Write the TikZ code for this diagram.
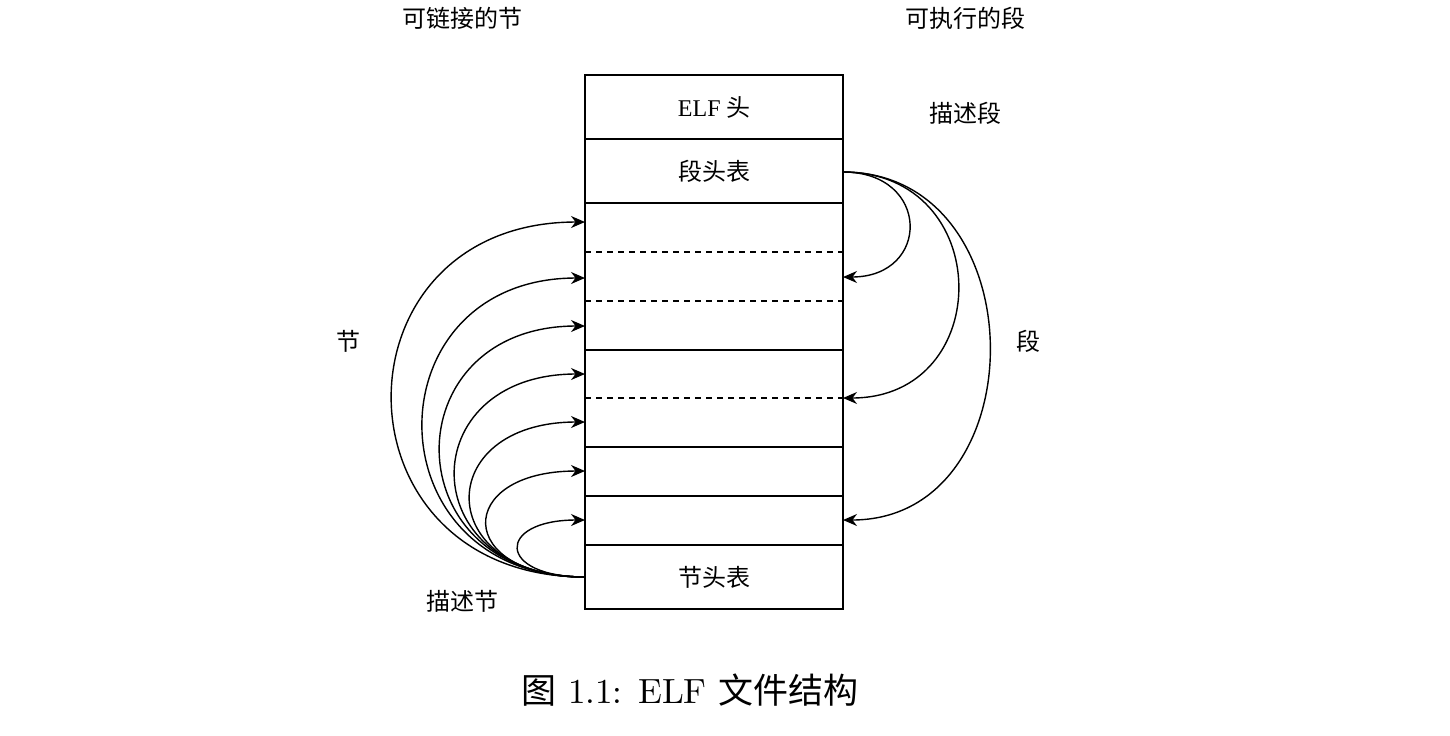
\documentclass[tikz,border=0pt]{standalone}
\usepackage{fontspec}
\newfontfamily\cjk{Noto Sans CJK SC}
\newfontfamily\tms{Liberation Serif}
\newfontfamily\lmten{lmroman10-regular.otf}
\usetikzlibrary{arrows.meta}
\begin{document}
\begin{tikzpicture}[x=0.5pt,y=-0.5pt,
  lbl/.style={font=\fontsize{12}{14}\selectfont\cjk, inner sep=0pt},
  conn/.style={line width=0.7pt, -{Stealth[length=7pt,width=6pt]}},
  sep/.style={line width=0.7pt},
  dsep/.style={line width=0.55pt, dash pattern=on 3pt off 2.5pt}]
\useasboundingbox (0,0) rectangle (1450,735);
% frame
\draw[sep] (585,75) rectangle (843,609);
\foreach \y in {139,203,350,447,496,545} \draw[sep] (585,\y) -- (843,\y);
\foreach \y in {252,301,398} \draw[dsep] (585,\y) -- (843,\y);
% box texts
\node[lbl] (elf) at (714,107) {{\tms ELF} 头};
\node[lbl] (pht) at (714,171) {段头表};
\node[lbl] (sht) at (714,577) {节头表};
% labels
\node[lbl] (l1) at (462,18) {可链接的节};
\node[lbl] (l2) at (965,18) {可执行的段};
\node[lbl] (l3) at (965,113) {描述段};
\node[lbl] (l4) at (348,341) {节};
\node[lbl] (l5) at (1028,341) {段};
\node[lbl] (l6) at (462,601) {描述节};
\node[inner sep=0pt, font=\fontsize{17.5}{20}\selectfont\lmten] (cap) at (690,690) {{\cjk 图} 1.1: ELF {\cjk 文件结构}};
% anchors
\coordinate (sl) at (585,577);
\coordinate (sr) at (843,172);
\coordinate (t1) at (585,222);
\coordinate (t2) at (585,278);
\coordinate (t3) at (585,326);
\coordinate (t4) at (585,374);
\coordinate (t5) at (585,422);
\coordinate (t6) at (585,471);
\coordinate (t7) at (585,520);
\coordinate (u1) at (843,277);
\coordinate (u2) at (843,398);
\coordinate (u3) at (843,520);
% left connectors
\draw[conn] (sl) .. controls +(-257,0) and +(-257,0) .. (t1);
\draw[conn] (sl) .. controls +(-216,0) and +(-216,0) .. (t2);
\draw[conn] (sl) .. controls +(-193,0) and +(-193,0) .. (t3);
\draw[conn] (sl) .. controls +(-173,0) and +(-173,0) .. (t4);
\draw[conn] (sl) .. controls +(-153,0) and +(-153,0) .. (t5);
\draw[conn] (sl) .. controls +(-131,0) and +(-131,0) .. (t6);
\draw[conn] (sl) .. controls +(-89,0) and +(-89,0) .. (t7);
% right connectors
\draw[conn] (sr) .. controls +(88,0) and +(88,0) .. (u1);
\draw[conn] (sr) .. controls +(153,0) and +(153,0) .. (u2);
\draw[conn] (sr) .. controls +(195,0) and +(195,0) .. (u3);
\end{tikzpicture}
\end{document}
